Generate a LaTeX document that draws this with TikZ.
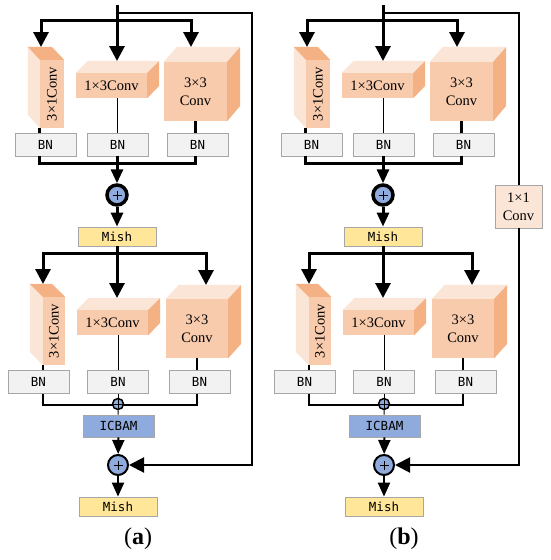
\documentclass[tikz,border=0pt]{standalone}
\usepackage{fontspec}
\usepackage{graphicx}
\setmainfont{Liberation Serif}
\newfontfamily\bnfont{DejaVu Sans Mono}
\usetikzlibrary{arrows.meta}

\definecolor{convmid}{HTML}{F8CBAD}
\definecolor{convpale}{HTML}{FBE5D6}
\definecolor{convdeep}{HTML}{F4B183}
\definecolor{bnfill}{HTML}{F2F2F2}
\definecolor{boxline}{HTML}{A6A6A6}
\definecolor{mishfill}{HTML}{FFE699}
\definecolor{attfill}{HTML}{8FAADC}

\tikzset{
  bn node/.style={rectangle, draw=boxline, fill=bnfill, line width=0.8pt,
    minimum width=61pt, minimum height=23pt, inner sep=0pt,
    font=\bnfont\fontsize{12.5}{14}\selectfont},
  mish node/.style={bn node, fill=mishfill, minimum width=78pt, minimum height=19pt},
  cbam node/.style={bn node, fill=attfill, minimum width=71pt, minimum height=22pt},
  conv node/.style={rectangle, fill=convmid, inner sep=0pt, align=center,
    font=\fontsize{14.5}{18}\selectfont},
  sum node/.style={circle, draw, fill=attfill, inner sep=0pt,
    path picture={\draw[line width=1pt]
      ([xshift=-#1]path picture bounding box.center) -- ([xshift=#1]path picture bounding box.center)
      ([yshift=-#1]path picture bounding box.center) -- ([yshift=#1]path picture bounding box.center);}},
  wire heavy/.style={line width=3pt},
  wire mid/.style={line width=2pt},
  wire fine/.style={line width=1pt},
  big tip/.style={-{Triangle[width=15pt,length=15pt]}},
  small tip/.style={-{Triangle[width=12pt,length=14pt]}},
}

\begin{document}
\begin{tikzpicture}[x=1pt, y=-1pt]
  \useasboundingbox (0,0) rectangle (550,560);

  \foreach \p/\dx in {a/0, b/266} {
  \begin{scope}[xshift=\dx pt]
    %% upper branches
    \coordinate (IN\p) at (117,5);
    \coordinate (SPLIT\p) at (117,13);
    \coordinate (FORK\p) at (117,20);
    \coordinate (UP31t\p) at (41,47);
    \coordinate (UP13t\p) at (117,61);
    \coordinate (UP33t\p) at (191,47);

    \node (UP31\p) [conv node, minimum width=24pt, minimum height=68pt] at (52,94) {\rotatebox{90}{3×1Conv}};
    \node (UP13\p) [conv node, minimum width=71pt, minimum height=25pt] at (111.5,85.5) {1×3Conv};
    \node (UP33\p) [conv node, minimum width=63pt, minimum height=59pt] at (195.5,91.5) {3×3\\Conv};
    \fill[convpale] (UP31\p.north west) -- ++(-12,-13) -- ++(0,68) -- (UP31\p.south west) -- cycle;
    \fill[convdeep] (UP31\p.north west) -- ++(-12,-13) -- ++(24,0) -- (UP31\p.north east) -- cycle;
    \fill[convpale] (UP13\p.north west) -- ++(12,-12) -- ++(71,0) -- (UP13\p.north east) -- cycle;
    \fill[convdeep] (UP13\p.north east) -- ++(12,-12) -- ++(0,25) -- (UP13\p.south east) -- cycle;
    \fill[convpale] (UP33\p.north west) -- ++(13,-15) -- ++(63,0) -- (UP33\p.north east) -- cycle;
    \fill[convdeep] (UP33\p.north east) -- ++(13,-15) -- ++(0,59) -- (UP33\p.south east) -- cycle;

    \draw[wire heavy, big tip] (IN\p) -- (UP13t\p);
    \draw[wire heavy, big tip] (FORK\p) -| (UP31t\p);
    \draw[wire heavy, big tip] (FORK\p) -| (UP33t\p);

    \node (UPBN1\p) [bn node] at (45.5,144.5) {BN};
    \node (UPBN2\p) [bn node, right of=UPBN1\p, node distance=72pt] {BN};
    \node (UPBN3\p) [bn node, right of=UPBN2\p, node distance=80pt] {BN};

    \draw[wire heavy] (UP31\p.south west) -- (UP31\p.south west |- UPBN1\p.north);
    \draw[wire fine] (IN\p |- UP13\p.south) -- (IN\p |- UPBN2\p.north);
    \draw[wire heavy] (UP33\p.south) -- (UP33\p.south |- UPBN3\p.north);
    \draw[wire heavy] (UP31\p.south west |- UPBN1\p.south) -- ++(0,7) -| (UP33\p.south |- UPBN3\p.south);

    \node (ADD1\p) [sum node=4.5pt, line width=3.5pt, minimum size=20pt] at (117,195) {};
    \draw[wire heavy, small tip] (IN\p |- UPBN2\p.south) -- (ADD1\p);
    \node (MISH1\p) [mish node] at (117,236.5) {Mish};
    \draw[wire heavy, small tip] (ADD1\p) -- (MISH1\p);

    %% lower branches
    \coordinate (FORK2\p) at (117,253);
    \coordinate (LO31t\p) at (43,284);
    \coordinate (LO13t\p) at (117,298);
    \coordinate (LO33t\p) at (206,285);

    \node (LO31\p) [conv node, minimum width=22pt, minimum height=68pt] at (54,331) {\rotatebox{90}{3×1Conv}};
    \node (LO13\p) [conv node, minimum width=71pt, minimum height=25pt] at (112.5,322.5) {1×3Conv};
    \node (LO33\p) [conv node, minimum width=62pt, minimum height=59pt] at (197,328.5) {3×3\\Conv};
    \fill[convpale] (LO31\p.north west) -- ++(-13,-13) -- ++(0,68) -- (LO31\p.south west) -- cycle;
    \fill[convdeep] (LO31\p.north west) -- ++(-13,-13) -- ++(22,0) -- (LO31\p.north east) -- cycle;
    \fill[convpale] (LO13\p.north west) -- ++(12,-12) -- ++(71,0) -- (LO13\p.north east) -- cycle;
    \fill[convdeep] (LO13\p.north east) -- ++(12,-12) -- ++(0,25) -- (LO13\p.south east) -- cycle;
    \fill[convpale] (LO33\p.north west) -- ++(13,-14) -- ++(62,0) -- (LO33\p.north east) -- cycle;
    \fill[convdeep] (LO33\p.north east) -- ++(13,-14) -- ++(0,59) -- (LO33\p.south east) -- cycle;

    \draw[wire heavy, big tip] (MISH1\p) -- (LO13t\p);
    \draw[wire heavy, big tip] (MISH1\p.south) -- (FORK2\p) -| (LO31t\p);
    \draw[wire heavy, big tip] (FORK2\p) -| (LO33t\p);

    \node (LOBN1\p) [bn node] at (38.5,382) {BN};
    \node (LOBN2\p) [bn node, right of=LOBN1\p, node distance=79.5pt] {BN};
    \node (LOBN3\p) [bn node, right of=LOBN2\p, node distance=81.5pt] {BN};

    \draw[wire mid] (LO31\p.south west) -- (LO31\p.south west |- LOBN1\p.north);
    \draw[wire fine] (LOBN2\p |- LO13\p.south) -- (LOBN2\p.north);
    \draw[wire mid] (LO33\p.south) -- (LO33\p.south |- LOBN3\p.north);
    \draw[wire mid] (LO31\p.south west |- LOBN1\p.south) -- ++(0,11) -| (LO33\p.south |- LOBN3\p.south);

    \node (ADD0\p) [sum node=5pt, line width=1.5pt, minimum size=11pt] at (118,404) {};
    \draw[wire fine] (LOBN2\p) -- (ADD0\p);
    \node (ATT\p) [cbam node] at (118.5,426) {ICBAM};
    \draw[wire fine] (ADD0\p) -- (ATT\p);
    \node (ADD2\p) [sum node=4.5pt, line width=2pt, minimum size=20pt] at (118,465) {};
    \draw[wire mid, small tip] (ATT\p) -- (ADD2\p);
    \node (MISH2\p) [mish node] at (118,506.5) {Mish};
    \draw[wire mid, small tip] (ADD2\p) -- (MISH2\p);

    \node (TAG\p) [font=\fontsize{24}{26}\selectfont] at (138,539) {(\textbf{\p})};
  \end{scope}
  }

  %% shortcut paths
  \coordinate (RIGHTa) at (252,465);
  \draw[wire mid, big tip] (SPLITa) -| (RIGHTa) -- (ADD2a);
  \node (K11) [bn node, fill=convpale, align=center, minimum width=47pt, minimum height=43pt,
    font=\fontsize{14.5}{18}\selectfont] at (518.5,206.5) {1×1\\Conv};
  \draw[wire mid] (SPLITb) -| (K11);
  \draw[wire mid, big tip] (K11) |- (ADD2b);
\end{tikzpicture}
\end{document}
